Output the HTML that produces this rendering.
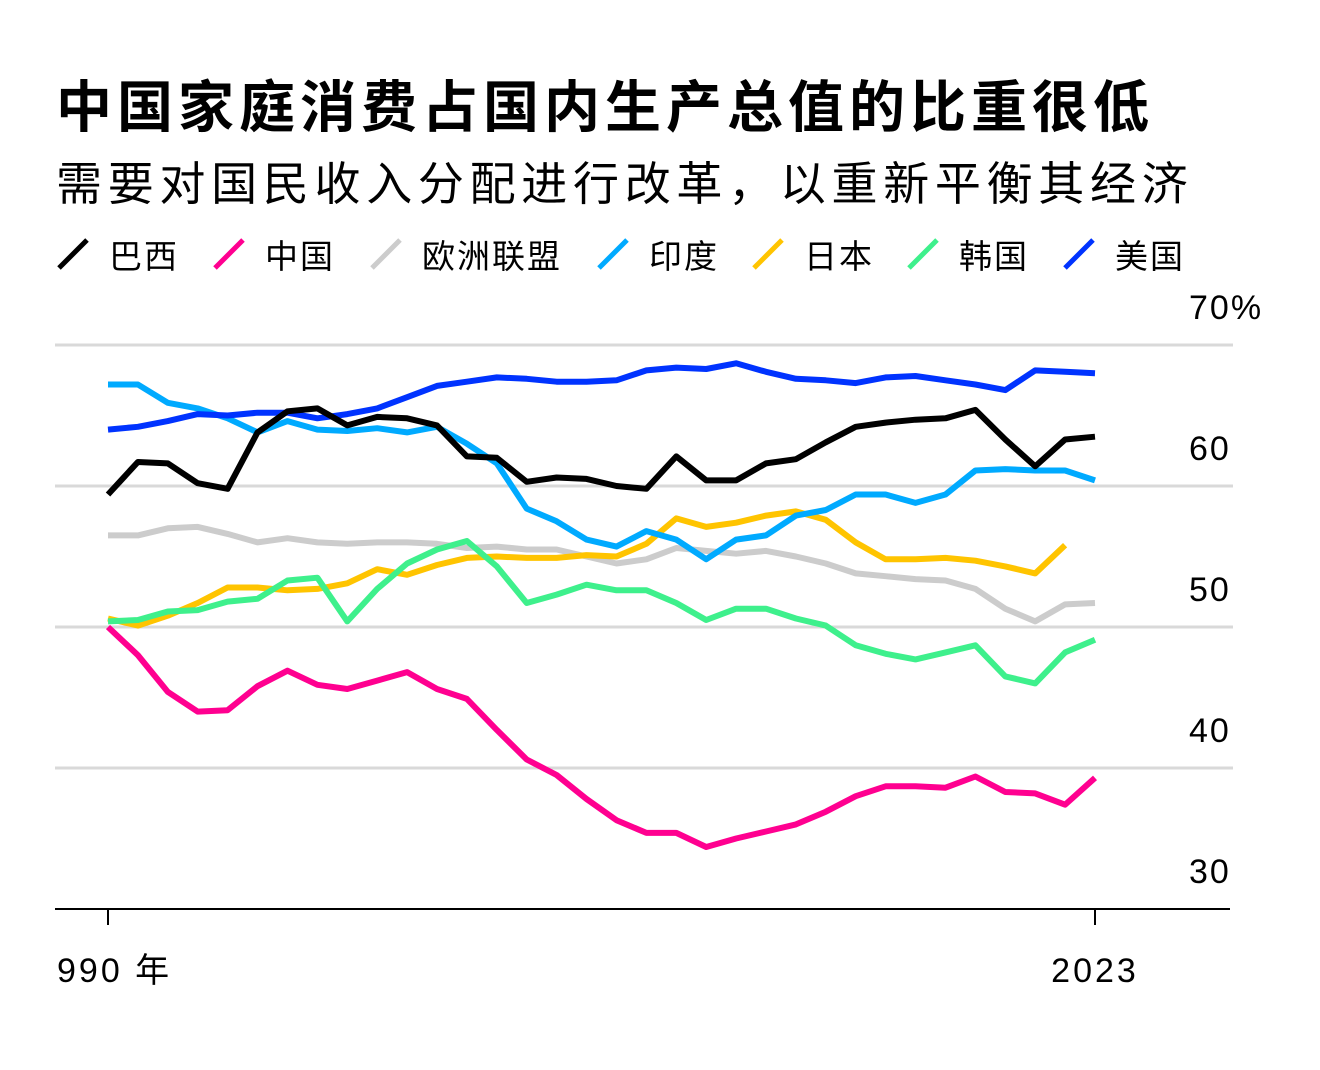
<!DOCTYPE html>
<html><head><meta charset="utf-8">
<style>
body{margin:0;background:#fff;}
svg text{font-family:"Liberation Sans","Noto Sans CJK SC",sans-serif;}
</style></head>
<body>
<svg id="chart" width="1320" height="1065" viewBox="0 0 1320 1065" xmlns="http://www.w3.org/2000/svg">
<rect width="1320" height="1065" fill="#fff"/>
<text x="56" y="127" font-size="56" font-weight="bold" letter-spacing="5" fill="#000">中国家庭消费占国内生产总值的比重很低</text>
<text x="56" y="200" font-size="46" letter-spacing="5.7" fill="#000">需要对国民收入分配进行改革，以重新平衡其经济</text>
<g id="legend"></g>
<g id="grid"></g>
<g id="series"></g>
<g id="axis"></g>
</svg>
<script>
const years = [1990,1991,1992,1993,1994,1995,1996,1997,1998,1999,2000,2001,2002,2003,2004,2005,2006,2007,2008,2009,2010,2011,2012,2013,2014,2015,2016,2017,2018,2019,2020,2021,2022,2023];
const brazil = [59.4,61.7,61.6,60.2,59.8,63.8,65.3,65.5,64.3,64.9,64.8,64.3,62.1,62.0,60.3,60.6,60.5,60.0,59.8,62.1,60.4,60.4,61.6,61.9,63.1,64.2,64.5,64.7,64.8,65.4,63.3,61.4,63.3,63.5];
const china = [50.0,48.0,45.4,44.0,44.1,45.8,46.9,45.9,45.6,46.2,46.8,45.6,44.9,42.7,40.6,39.5,37.8,36.3,35.4,35.4,34.4,35.0,35.5,36.0,36.9,38.0,38.7,38.7,38.6,39.4,38.3,38.2,37.4,39.3];
const eu = [56.5,56.5,57.0,57.1,56.6,56.0,56.3,56.0,55.9,56.0,56.0,55.9,55.6,55.7,55.5,55.5,55.0,54.5,54.8,55.6,55.4,55.2,55.4,55.0,54.5,53.8,53.6,53.4,53.3,52.7,51.3,50.4,51.6,51.7];
const india = [67.2,67.2,65.9,65.5,64.8,63.8,64.6,64.0,63.9,64.1,63.8,64.2,63.0,61.6,58.4,57.5,56.2,55.7,56.8,56.2,54.8,56.2,56.5,57.9,58.3,59.4,59.4,58.8,59.4,61.1,61.2,61.1,61.1,60.4];
const japan = [50.6,50.1,50.8,51.7,52.8,52.8,52.6,52.7,53.1,54.1,53.7,54.4,54.9,55.0,54.9,54.9,55.1,55.0,55.9,57.7,57.1,57.4,57.9,58.2,57.6,56.0,54.8,54.8,54.9,54.7,54.3,53.8,55.8,null];
const korea = [50.4,50.5,51.1,51.2,51.8,52.0,53.3,53.5,50.4,52.7,54.5,55.5,56.1,54.3,51.7,52.3,53.0,52.6,52.6,51.7,50.5,51.3,51.3,50.6,50.1,48.7,48.1,47.7,48.2,48.7,46.5,46.0,48.2,49.1];
const usa = [64.0,64.2,64.6,65.1,65.0,65.2,65.2,64.8,65.1,65.5,66.3,67.1,67.4,67.7,67.6,67.4,67.4,67.5,68.2,68.4,68.3,68.7,68.1,67.6,67.5,67.3,67.7,67.8,67.5,67.2,66.8,68.2,68.1,68.0];
const yTicks = [30,40,50,60,70];
const yTickLabels = ["30","40","50","60","70%"];
const xTickYears = [1990,2023];
const xTickLabels = ["990 年","2023"];
const legendNames = ["巴西","中国","欧洲联盟","印度","日本","韩国","美国"];

const NS="http://www.w3.org/2000/svg";
const x = yr => 108 + (yr-1990)*(1095-108)/33;
const y = v => 909 - (v-30)*14.1;
function mk(tag, attrs, parent){const e=document.createElementNS(NS,tag);for(const k in attrs)e.setAttribute(k,attrs[k]);parent.appendChild(e);return e;}

const grid=document.getElementById('grid');
yTicks.forEach((t,i)=>{
  if(t>30){
    const l=mk('line',{x1:55,x2:1233,y1:y(t),y2:y(t),stroke:'#d9d9d9','stroke-width':3},grid);
    
    
  }
  const tx=mk('text',{x:1189,y:y(t)-26,'font-size':34,'letter-spacing':2,fill:'#000'},grid);
  tx.textContent=yTickLabels[i];
  
  
});

const seriesDefs=[
  {name:'eu',data:eu,color:'#cccccc'},
  {name:'japan',data:japan,color:'#ffc400'},
  {name:'korea',data:korea,color:'#3ef08c'},
  {name:'india',data:india,color:'#00aaff'},
  {name:'usa',data:usa,color:'#0033ff'},
  {name:'brazil',data:brazil,color:'#000000'},
  {name:'china',data:china,color:'#ff0090'}
];
const sg=document.getElementById('series');
seriesDefs.forEach(s=>{
  let d='';let started=false;
  s.data.forEach((v,i)=>{ if(v==null)return; d+=(started?'L':'M')+x(years[i]).toFixed(1)+','+y(v).toFixed(1); started=true;});
  const p=mk('path',{d:d,fill:'none',stroke:s.color,'stroke-width':6,'stroke-linejoin':'round','stroke-linecap':'butt'},sg);
  
  
});

const ax=document.getElementById('axis');
const al=mk('line',{x1:55,x2:1230,y1:909,y2:909,stroke:'#000','stroke-width':2},ax);


xTickYears.forEach((yr,i)=>{
  const t=mk('line',{x1:x(yr),x2:x(yr),y1:909,y2:925,stroke:'#000','stroke-width':2},ax);
  
  
  const tx=mk('text',{x:i==0?57:x(yr),y:982,'font-size':34,'letter-spacing':3,fill:'#000','text-anchor':i==0?'start':'middle'},ax);
  tx.textContent=xTickLabels[i];
  
  
});

const lg=document.getElementById('legend');
const legendColors=['#000000','#ff0090','#cccccc','#00aaff','#ffc400','#3ef08c','#0033ff'];
const legendX=[57,213,370,597,752,907,1063];
legendNames.forEach((n,i)=>{
  const g=mk('g',{},lg);
  
  
  mk('line',{x1:legendX[i]+2,y1:268,x2:legendX[i]+30,y2:240,stroke:legendColors[i],'stroke-width':5},g);
  const t=mk('text',{x:legendX[i]+52,y:268,'font-size':33,'letter-spacing':2,fill:'#000'},g);
  t.textContent=n;
});
</script>
</body></html>
